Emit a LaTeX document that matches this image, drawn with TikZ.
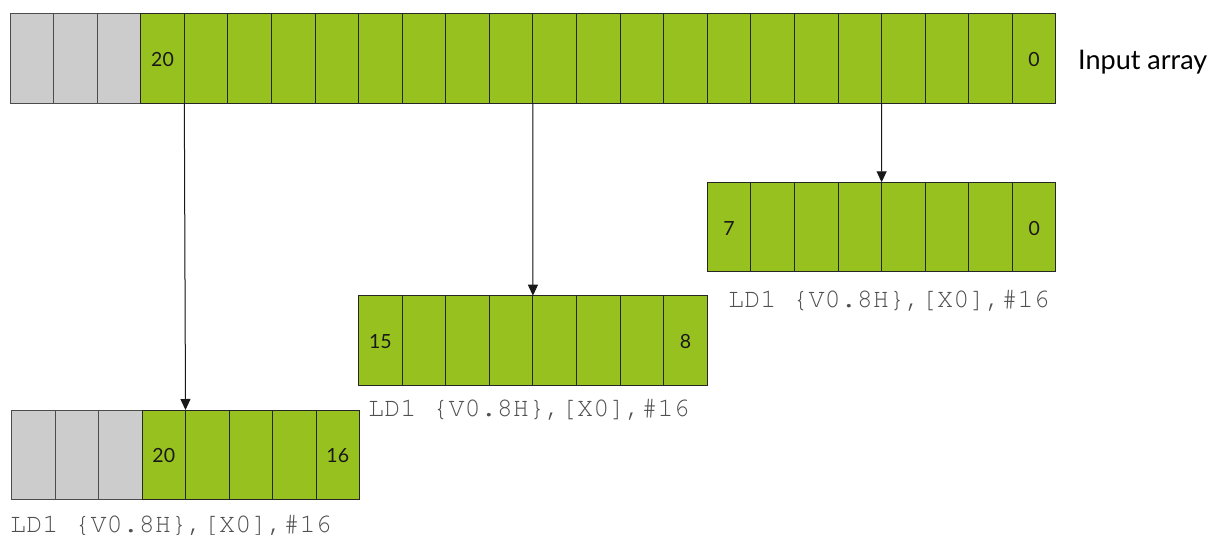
\documentclass[tikz,border=0pt]{standalone}
\usepackage{fontspec}
\newfontfamily\lato{Lato}
\newfontfamily\mono{texgyrecursor-regular.otf}
\usetikzlibrary{arrows.meta}
\definecolor{cellgreen}{RGB}{151,193,31}
\definecolor{cellgray}{RGB}{204,204,204}
\definecolor{codegray}{RGB}{80,80,80}
\begin{document}
\begin{tikzpicture}[x=1pt,y=-1pt,
  cell/.style={draw=black!85, line width=1pt, fill=cellgreen, minimum width=43.58pt,
    minimum height=89.5pt, inner sep=0pt, outer sep=0pt, anchor=north west},
  padcell/.style={cell, fill=cellgray, draw=black!70},
  num/.style={font=\lato\fontsize{19.5}{21}\selectfont, inner sep=0pt, text=black!90},
  code/.style={font=\mono\fontsize{26.8}{28}\selectfont, text=codegray, inner sep=0pt, anchor=base west},
  arr/.style={-{Triangle[length=11pt,width=10pt]}, line width=1pt, draw=black!90, fill=black}]
\useasboundingbox (0,0) rectangle (1221,535);
% input array
\foreach \i in {0,1,2} \node[padcell] (t\i) at ({10+\i*43.58},13.5) {};
\foreach \i in {3,...,23} \node[cell] (t\i) at ({10+\i*43.58},13.5) {};
\node[num] (t20lbl) at ([yshift=-1.5pt]t3.center) {20};
\node[num] (t0lbl) at ([yshift=-1.5pt]t23.center) {0};
\node[font=\lato\fontsize{27}{29}\selectfont, inner sep=0pt, anchor=base west] (inlbl) at (1078,70) {Input array};
% right result
\foreach \i in {0,...,7} \node[cell] (r\i) at ({707.3+\i*43.58},182.3) {};
\node[num] (r7lbl) at ([yshift=-1.5pt]r0.center) {7};
\node[num] (r0lbl) at ([yshift=-1.5pt]r7.center) {0};
\node[code] (rcode) at (728,307.5) {LD1 \{V0.8H\},[X0],\#16};
% middle result
\foreach \i in {0,...,7} \node[cell] (m\i) at ({358.6+\i*43.58},295.7) {};
\node[num] (m15lbl) at ([yshift=-1.5pt]m0.center) {15};
\node[num] (m8lbl) at ([yshift=-1.5pt]m7.center) {8};
\node[code] (mcode) at (368,416.5) {LD1 \{V0.8H\},[X0],\#16};
% bottom result
\foreach \i in {0,1,2} \node[padcell,minimum height=89pt] (b\i) at ({11.5+\i*43.5},410) {};
\foreach \i in {3,...,7} \node[cell,minimum height=89pt] (b\i) at ({11.5+\i*43.5},410) {};
\node[num] (b20lbl) at ([yshift=-1.5pt]b3.center) {20};
\node[num] (b16lbl) at ([yshift=-1.5pt]b7.center) {16};
\node[code] (bcode) at (10,532) {LD1 \{V0.8H\},[X0],\#16};
% arrows
\draw[arr] (t4.south west) -- (b4.north west);
\draw[arr] (t12.south west) -- (m4.north west);
\draw[arr] (t20.south west) -- (r4.north west);
\end{tikzpicture}
\end{document}
